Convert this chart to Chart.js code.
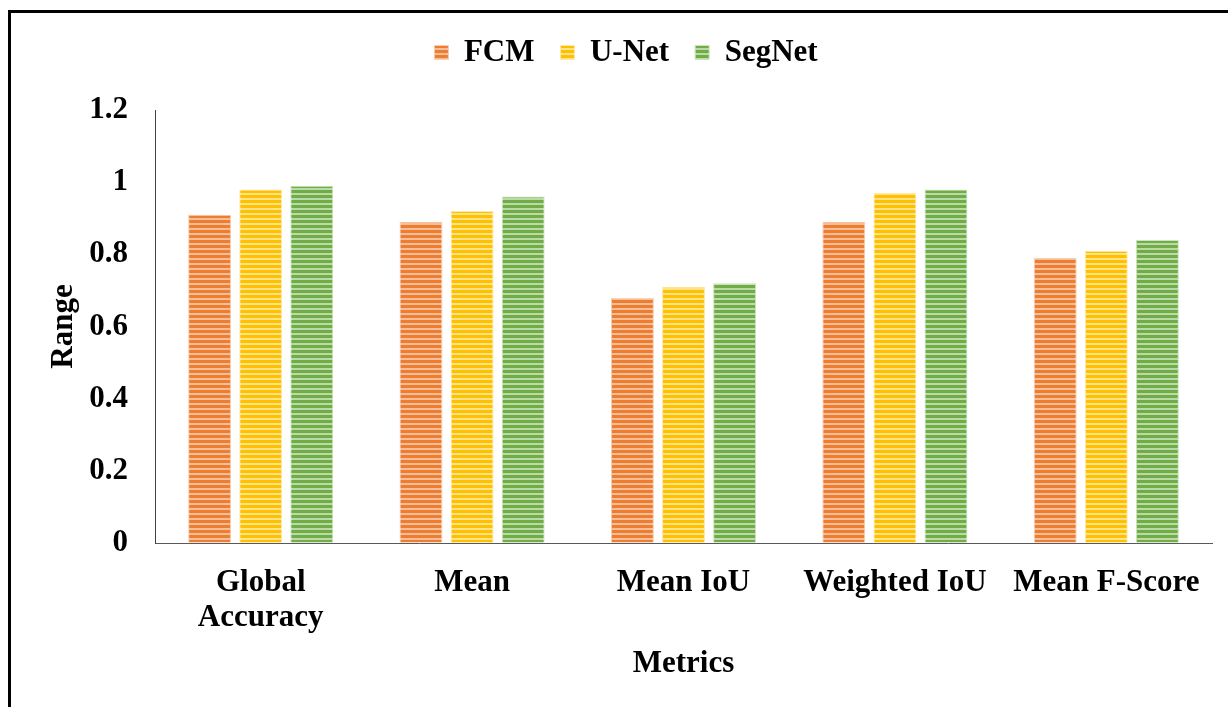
<!DOCTYPE html>
<html>
<head>
<meta charset="utf-8">
<script src="https://cdn.jsdelivr.net/npm/chart.js@4/dist/chart.umd.min.js"></script>
<style>
  html, body { margin: 0; padding: 0; background: #fff; }
  #wrap { position: relative; width: 1228px; height: 707px; overflow: hidden; }
  #frame { position: absolute; left: 8px; top: 10px; width: 1240px; height: 720px;
           border-left: 3px solid #000; border-top: 3px solid #000; }
  #chart { position: absolute; left: 0; top: 0; }
</style>
</head>
<body>
<div id="wrap">
  <div id="frame"></div>
  <canvas id="chart" width="1228" height="707"></canvas>
</div>
<script>
// values
const categories = [['Global', 'Accuracy'], 'Mean', 'Mean IoU', 'Weighted IoU', 'Mean F-Score'];
const fcm = [0.91, 0.89, 0.68, 0.89, 0.79];
const unet = [0.98, 0.92, 0.71, 0.97, 0.81];
const segnet = [0.99, 0.96, 0.72, 0.98, 0.84];
const yTicks = [0, 0.2, 0.4, 0.6, 0.8, 1, 1.2];

// horizontal stripe fill like the office "dark horizontal" pattern
function stripes(base, light) {
  const c = document.createElement('canvas');
  c.width = 4; c.height = 5;
  const g = c.getContext('2d');
  g.fillStyle = base; g.fillRect(0, 0, 4, 5);
  g.fillStyle = light; g.fillRect(0, 3, 4, 2);
  return g.createPattern(c, 'repeat');
}

const font = { family: '"Liberation Serif", "Times New Roman", serif', size: 31, weight: 'bold', lineHeight: 1.15 };

// legend box taller so the plot starts lower, like the original
const legendFit = {
  id: 'legendFit',
  beforeInit(chart) {
    const lg = chart.legend;
    const orig = lg.fit;
    lg.fit = function () { orig.call(this); this.height = 99; };
  }
};

const ctx = document.getElementById('chart').getContext('2d');
new Chart(ctx, {
  type: 'bar',
  data: {
    labels: categories,
    datasets: [
      { label: 'FCM', data: fcm, backgroundColor: stripes('#ED7D31', '#F6BE98'), borderColor: '#F8CDB0', borderWidth: 1 },
      { label: 'U-Net', data: unet, backgroundColor: stripes('#FFC000', '#FFE38A'), borderColor: '#FFE9A6', borderWidth: 1 },
      { label: 'SegNet', data: segnet, backgroundColor: stripes('#70AD47', '#BCD9A8'), borderColor: '#CDE3BE', borderWidth: 1 }
    ]
  },
  plugins: [legendFit],
  options: {
    responsive: false,
    animation: false,
    layout: { padding: { left: 40, right: 16, top: 11, bottom: 0 } },
    categoryPercentage: 0.725,
    barPercentage: 0.84,
    plugins: {
      tooltip: { enabled: false },
      legend: {
        position: 'top',
        labels: { font: font, color: '#000', boxWidth: 14, boxHeight: 14, padding: 26 }
      }
    },
    scales: {
      x: {
        grid: { drawOnChartArea: false, drawTicks: false },
        border: { display: true, color: '#595959', width: 1 },
        ticks: { font: font, color: '#000', padding: 22, maxRotation: 0, autoSkip: false },
        title: { display: true, text: 'Metrics', font: font, color: '#000', padding: { top: 4, bottom: 25 } },
        afterFit: s => { s.height = 707 - 543; }
      },
      y: {
        min: 0, max: 1.2,
        afterBuildTicks: s => { s.ticks = yTicks.map(v => ({ value: v })); },
        grid: { drawOnChartArea: false, drawTicks: false },
        border: { display: true, color: '#404040', width: 1 },
        ticks: { font: font, color: '#000', padding: 27, callback: v => String(+v.toFixed(1)) },
        title: { display: true, text: 'Range', font: font, color: '#000', padding: { top: 6, bottom: 4 } },
        afterFit: s => { s.width = 155 - 40; }
      }
    }
  }
});
</script>
</body>
</html>
